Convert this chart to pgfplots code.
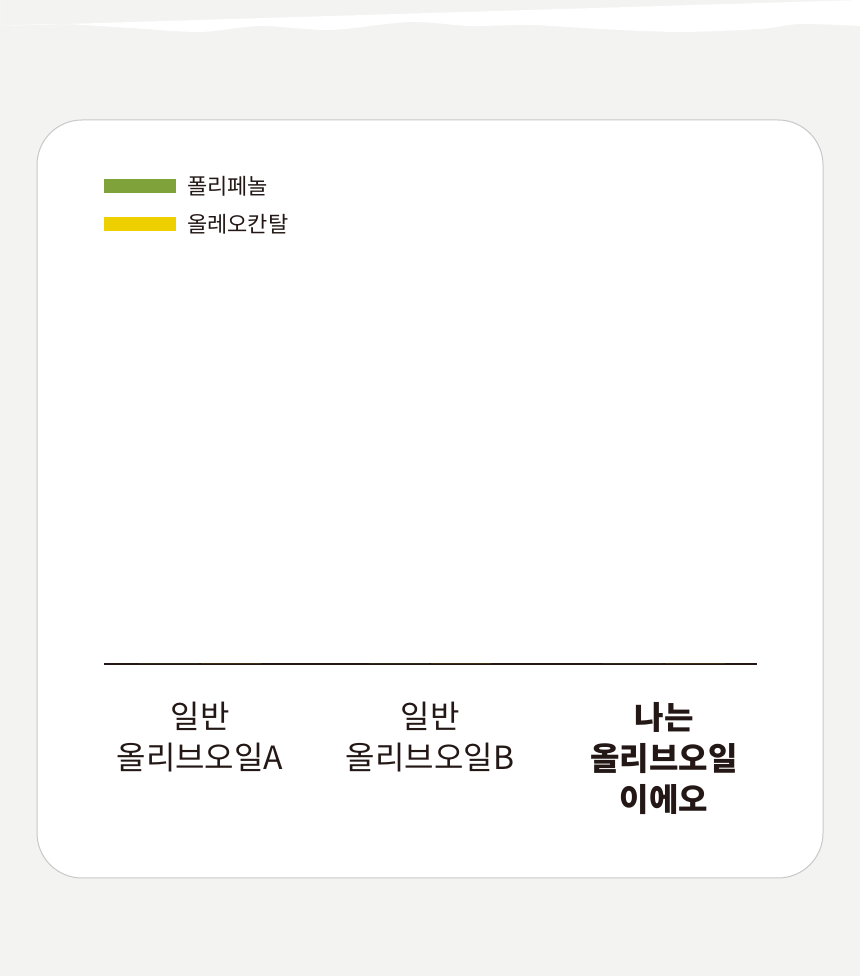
\documentclass[border=0pt]{standalone}
\usepackage{fontspec}
\usepackage{pgfplots}
\pgfplotsset{compat=1.18}
\newfontfamily\cjk{Noto Sans CJK KR}
\definecolor{polygreen}{HTML}{7FA23A}
\definecolor{oleoyellow}{HTML}{EECF00}
\definecolor{ink}{HTML}{231815}
\definecolor{paper}{HTML}{F3F3F1}
\definecolor{cardline}{HTML}{C8C8C8}
\begin{document}
\begin{tikzpicture}
% paper background with torn white top
\fill[paper] (0pt,0pt) rectangle (860pt,976pt);
\fill[white] (0pt,976pt) -- (0pt,950pt) plot[smooth] coordinates {(0pt,950pt) (60pt,952pt) (130pt,948pt) (200pt,944pt) (260pt,950pt) (330pt,946pt) (410pt,954pt) (470pt,950pt) (530pt,951pt) (600pt,947pt) (680pt,944pt) (760pt,947pt) (800pt,952pt) (860pt,950pt)} -- (860pt,976pt) -- cycle;
% card
\filldraw[fill=white, draw=cardline, line width=1pt, rounded corners=45pt] (37pt,98pt) rectangle (823pt,856pt);
\begin{axis}[
  at={(104pt,312pt)}, anchor=south west,
  scale only axis, width=653pt, height=488pt,
  xmin=104, xmax=757, ymin=0, ymax=100,
  axis x line=bottom, axis y line=none,
  axis line style={-, line width=1.3pt, color=ink},
  xtick={200,430,664},
  xticklabels={{일반\\올리브오일A},{일반\\올리브오일B},{\bfseries 나는\\\bfseries 올리브오일\\\bfseries 이에오}},
  major tick length=0pt,
  xticklabel style={align=center, font=\cjk\fontsize{32}{41}\selectfont, text=ink, yshift=-35pt},
  ybar, bar width=60pt,
  legend style={at={(rel axis cs:0,1)}, anchor=north west, draw=none, fill=none,
    font=\cjk\fontsize{22}{26}\selectfont, text=ink, inner sep=0pt, row sep=18pt,
    nodes={inner sep=0pt, anchor=west},
    /tikz/every odd column/.append style={column sep=11pt}},
  legend cell align=left,
]
\addplot[fill=polygreen, draw=none, legend image code/.code={\fill[polygreen] (0pt,-7pt) rectangle (72pt,7pt);}]
  coordinates {(200,0) (430,0) (664,0)};
\addplot[fill=oleoyellow, draw=none, legend image code/.code={\fill[oleoyellow] (0pt,-7pt) rectangle (72pt,7pt);}]
  coordinates {(200,0) (430,0) (664,0)};
\legend{폴리페놀,올레오칸탈}
\end{axis}
\end{tikzpicture}
\end{document}
